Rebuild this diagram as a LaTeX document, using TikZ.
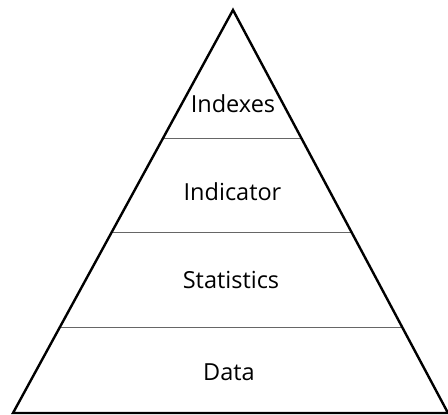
\documentclass[tikz,border=0pt]{standalone}
\usepackage{fontspec}
\setmainfont{Open Sans}
\usetikzlibrary{positioning,calc}
\tikzset{
    % outline of the pyramid
    edgeline/.style={
           line width=2.4pt,
           line join=miter,}
}
\newcommand{\labelsize}{\fontsize{23.5}{28}\selectfont}

\begin{document}
\begin{tikzpicture}[x=1pt, y=-1pt]
\tikzstyle{level}=[draw=gray!80!black, line width=0.8pt]
\tikzstyle{tag}=[anchor=base, inner sep=0pt, font=\labelsize]

\useasboundingbox (0,0) rectangle (448,415);

\coordinate (top) at (233,10);
\coordinate (left) at (13,413);
\coordinate (right) at (448,413);

% dividers between the layers
\coordinate (l1) at ($(top)!0.3176!(left)$);
\coordinate (r1) at ($(top)!0.3176!(right)$);
\coordinate (l2) at ($(top)!0.5509!(left)$);
\coordinate (r2) at ($(top)!0.5509!(right)$);
\coordinate (l3) at ($(top)!0.7866!(left)$);
\coordinate (r3) at ($(top)!0.7866!(right)$);

\path[level] (l1) edge (r1);
\path[level] (l2) edge (r2);
\path[level] (l3) edge (r3);

\draw[edgeline] (top) -- (left) -- (right) -- cycle;

\node[tag] (indexes) at (233,112) {Indexes};
\node[tag] (indicator) at (232.5,200) {Indicator};
\node[tag] (statistics) at (231,288) {Statistics};
\node[tag] (data) at (229,380) {Data};

\end{tikzpicture}
\end{document}
